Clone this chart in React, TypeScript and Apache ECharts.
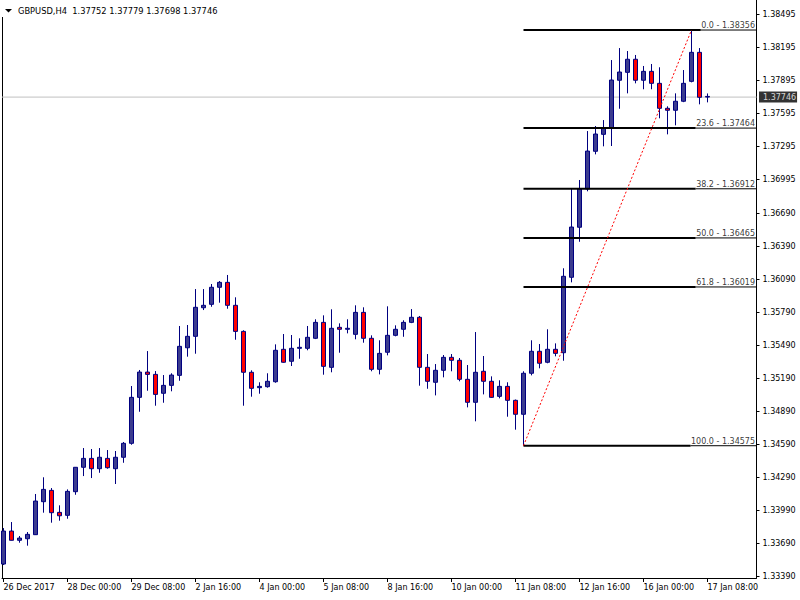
import React, { useEffect, useRef } from "react";
import * as echarts from "echarts";

const symbolName = "GBPUSD";
const timeframe = "H4";

const opens = [
  1.33499, 1.33799, 1.33715, 1.33729, 1.33766, 1.34066, 1.34169, 1.33969, 1.33942, 1.34157,
  1.34379, 1.3446, 1.34366, 1.3446, 1.34366, 1.3447, 1.34597, 1.35015, 1.35245, 1.35224,
  1.35052, 1.35124, 1.35215, 1.35466, 1.3557, 1.3583, 1.35861, 1.36016, 1.36061, 1.35852,
  1.35615, 1.35243, 1.35103, 1.35112, 1.35157, 1.35452, 1.35343, 1.35461, 1.35461, 1.35552,
  1.35697, 1.35288, 1.35652, 1.35634, 1.35588, 1.35788, 1.35552, 1.3527, 1.35425, 1.35579,
  1.35634, 1.35697, 1.35743, 1.35288, 1.35152, 1.35261, 1.35379, 1.35352, 1.35179, 1.3497,
  1.35252, 1.35161, 1.35024, 1.35115, 1.34988, 1.34861, 1.35234, 1.35434, 1.35334, 1.35452,
  1.35421, 1.36107, 1.36562, 1.3691, 1.37253, 1.37407, 1.37462, 1.37899, 1.37971, 1.3809,
  1.37899, 1.3798, 1.37871, 1.37644, 1.37626, 1.37708, 1.37889, 1.38153, 1.37752,
];
const closes = [
  1.33799, 1.33715, 1.33735, 1.33769, 1.34072, 1.34178, 1.33966, 1.33938, 1.3416, 1.34379,
  1.3446, 1.34366, 1.3447, 1.34375, 1.3447, 1.34597, 1.35015, 1.35245, 1.35224, 1.35042,
  1.35124, 1.35218, 1.35479, 1.3557, 1.35834, 1.35852, 1.36016, 1.36061, 1.35852, 1.35615,
  1.35243, 1.35097, 1.35115, 1.35161, 1.35443, 1.35334, 1.35461, 1.3547, 1.35561, 1.35697,
  1.35297, 1.35643, 1.35634, 1.35643, 1.35788, 1.35552, 1.3527, 1.35415, 1.35579, 1.35634,
  1.35697, 1.35743, 1.35288, 1.35161, 1.35261, 1.35379, 1.35352, 1.35179, 1.3497, 1.35243,
  1.35161, 1.35015, 1.35115, 1.34988, 1.34861, 1.35234, 1.35434, 1.35325, 1.35452, 1.35415,
  1.36116, 1.36564, 1.3691, 1.37255, 1.3741, 1.37465, 1.37901, 1.37974, 1.3809, 1.37899,
  1.3798, 1.37871, 1.37644, 1.37626, 1.37708, 1.37871, 1.38153, 1.37744, 1.37746,
];
const lows = [
  1.3349, 1.33713, 1.33693, 1.33666, 1.33763, 1.33966, 1.33875, 1.33893, 1.33911, 1.34129,
  1.34299, 1.34281, 1.34329, 1.34366, 1.34227, 1.3442, 1.34584, 1.34884, 1.35075, 1.34939,
  1.34966, 1.3507, 1.35166, 1.35385, 1.35412, 1.35809, 1.35839, 1.35876, 1.35821, 1.35539,
  1.34939, 1.35021, 1.35048, 1.35103, 1.35148, 1.3533, 1.353, 1.35366, 1.35443, 1.35545,
  1.35221, 1.35243, 1.35421, 1.35597, 1.35543, 1.35512, 1.35252, 1.35224, 1.35397, 1.3557,
  1.35566, 1.3569, 1.35121, 1.35093, 1.35033, 1.35197, 1.35252, 1.35161, 1.34924, 1.34797,
  1.35042, 1.3501, 1.35006, 1.34839, 1.34721, 1.34575, 1.35215, 1.35279, 1.35325, 1.35388,
  1.35348, 1.36061, 1.3643, 1.36889, 1.37225, 1.37298, 1.37301, 1.3764, 1.3778, 1.37871,
  1.37817, 1.37817, 1.37553, 1.37407, 1.37489, 1.377, 1.3788, 1.3768, 1.37698,
];
const highs = [
  1.33826, 1.33881, 1.33754, 1.3379, 1.34136, 1.34288, 1.3419, 1.34033, 1.34178, 1.34381,
  1.34554, 1.34545, 1.34554, 1.34536, 1.34527, 1.34609, 1.35118, 1.35264, 1.35436, 1.35254,
  1.35218, 1.35234, 1.35664, 1.35673, 1.36, 1.36, 1.36046, 1.36073, 1.36128, 1.35925,
  1.35625, 1.35261, 1.35152, 1.35234, 1.35497, 1.35591, 1.35582, 1.35552, 1.35664, 1.35725,
  1.35761, 1.35816, 1.35688, 1.35725, 1.35852, 1.35834, 1.35579, 1.35534, 1.35843, 1.3567,
  1.35716, 1.35818, 1.35755, 1.35409, 1.35318, 1.354, 1.35409, 1.35373, 1.35309, 1.35609,
  1.35391, 1.35206, 1.3517, 1.35152, 1.34995, 1.35252, 1.35534, 1.355, 1.35634, 1.35506,
  1.36189, 1.36913, 1.36992, 1.37437, 1.37483, 1.37537, 1.38083, 1.38192, 1.38165, 1.38129,
  1.38029, 1.38047, 1.38017, 1.37662, 1.3778, 1.37992, 1.38356, 1.38192, 1.37779,
];

const xTickLabels = [
  "26 Dec 2017", "28 Dec 00:00", "29 Dec 08:00", "2 Jan 16:00", "4 Jan 00:00", "5 Jan 08:00",
  "8 Jan 16:00", "10 Jan 00:00", "11 Jan 08:00", "12 Jan 16:00", "16 Jan 00:00", "17 Jan 08:00",
];
const barsPerLabel = 8;
const yTickValues = [
  1.3339, 1.3369, 1.3399, 1.3429, 1.3459, 1.3489, 1.3519, 1.3549, 1.3579, 1.3609,
  1.3639, 1.3669, 1.36995, 1.37295, 1.37595, 1.37895, 1.38195, 1.38495,
];

const fibLevels = [0.0, 23.6, 38.2, 50.0, 61.8, 100.0];
const fibPrices = [1.38356, 1.37464, 1.36912, 1.36465, 1.36019, 1.34575];
const fibAnchorBar = 65;
const trendFromBar = 65;
const trendToBar = 86;
const currentPrice = 1.37746;

const W = 800;
const H = 600;
const GRID = { left: 2, right: 43.5, top: 0, bottom: 22 };
const BAR_PX = 8;
const X_MIN = -0.1875;
const X_MAX = X_MIN + (W - GRID.left - GRID.right) / BAR_PX;
const Y_MIN = 1.33372;
const Y_MAX = 1.38629;
const FONT = "DejaVu Sans";
const FS = 8;

function measure(text: string, size: number): number {
  const ctx = document.createElement("canvas").getContext("2d");
  if (!ctx) return text.length * size * 0.55;
  ctx.font = `${size}px "${FONT}"`;
  return ctx.measureText(text).width;
}

function buildOption() {
  const candleData = opens.map((o, i) => [i, o, closes[i], lows[i], highs[i]]);
  const fibTexts = fibPrices.map((p, i) => `${fibLevels[i].toFixed(1)} - ${p.toFixed(5)}`);
  const lineCommon = { symbol: "none", silent: true, animation: false, z: 3 };

  const fibSeries: any[] = [];
  fibPrices.forEach((p, i) => {
    const w = measure(fibTexts[i], FS);
    const split = X_MAX - (w + 2) / BAR_PX;
    fibSeries.push({
      type: "line",
      ...lineCommon,
      data: [[fibAnchorBar, p], [split, p]],
      lineStyle: { color: "#000000", width: 2 },
    });
    fibSeries.push({
      type: "line",
      ...lineCommon,
      data: [[split, p], [X_MAX, p]],
      lineStyle: { color: "#000000", width: 1 },
    });
  });

  const last = opens.length - 1;
  const fmt = (v: number) => v.toFixed(5);
  const title = `${symbolName},${timeframe}\u00a0 ${fmt(opens[last])} ${fmt(highs[last])} ${fmt(lows[last])} ${fmt(closes[last])}`;

  const tickBars = xTickLabels.map((_, i) => i * barsPerLabel);

  return {
    animation: false,
    backgroundColor: "#ffffff",
    grid: {
      left: GRID.left,
      right: GRID.right,
      top: GRID.top,
      bottom: GRID.bottom,
      containLabel: false,
      outerBoundsMode: "none",
    },
    xAxis: {
      type: "value",
      min: X_MIN,
      max: X_MAX,
      position: "bottom",
      axisLine: { show: true, onZero: false, lineStyle: { color: "#000000", width: 1 } },
      axisTick: { show: true, customValues: tickBars, length: 4, lineStyle: { color: "#000000" } },
      axisLabel: {
        show: true,
        customValues: tickBars,
        formatter: (v: number) => xTickLabels[Math.round(v / barsPerLabel)] ?? "",
        align: "left",
        margin: 5,
        color: "#000000",
        fontFamily: FONT,
        fontSize: FS,
      },
      splitLine: { show: false },
    },
    yAxis: {
      type: "value",
      position: "right",
      min: Y_MIN,
      max: Y_MAX,
      axisLine: { show: true, onZero: false, lineStyle: { color: "#000000", width: 1 } },
      axisTick: { show: true, customValues: yTickValues, length: 3, lineStyle: { color: "#000000" } },
      axisLabel: {
        show: true,
        customValues: yTickValues,
        formatter: (v: number) => v.toFixed(5),
        margin: 6,
        color: "#000000",
        fontFamily: FONT,
        fontSize: FS,
      },
      splitLine: { show: false },
    },
    graphic: [
      {
        type: "line",
        shape: { x1: 2.5, y1: 17, x2: 2.5, y2: 578 },
        style: { stroke: "#000000", lineWidth: 1 },
        silent: true,
      },
      {
        type: "polygon",
        shape: { points: [[5, 9], [12, 9], [8.5, 12.5]] },
        style: { fill: "#000000" },
        silent: true,
      },
      {
        type: "text",
        x: 18,
        y: 11,
        style: {
          text: title,
          fill: "#000000",
          fontFamily: FONT,
          fontSize: 8.3,
          verticalAlign: "middle",
          align: "left",
        },
        silent: true,
      },
    ],
    series: [
      {
        type: "line",
        ...lineCommon,
        z: 1,
        data: [[X_MIN, currentPrice], [X_MAX, currentPrice]],
        lineStyle: { color: "#c0c0c0", width: 1 },
      },
      {
        type: "candlestick",
        z: 2,
        silent: true,
        barWidth: 4,
        data: candleData,
        encode: { x: 0, y: [1, 2, 3, 4] },
        itemStyle: {
          color: "#3c3c8e",
          color0: "#ff0000",
          borderColor: "#000080",
          borderColor0: "#000080",
          borderColorDoji: "#000080",
          borderWidth: 1,
        },
        emphasis: { disabled: true },
      },
      ...fibSeries,
      {
        type: "line",
        ...lineCommon,
        z: 4,
        data: [
          [trendFromBar, lows[trendFromBar]],
          [trendToBar, highs[trendToBar]],
        ],
        lineStyle: { color: "#ff0000", width: 1, type: [2, 2] },
      },
      {
        type: "scatter",
        z: 5,
        silent: true,
        symbolSize: 1,
        itemStyle: { color: "rgba(0,0,0,0)" },
        data: fibPrices.map((p) => [X_MAX, p]),
        label: {
          show: true,
          position: [0, 0],
          align: "right",
          verticalAlign: "bottom",
          offset: [-1, 0],
          formatter: (prm: any) => fibTexts[prm.dataIndex],
          color: "#000000",
          fontFamily: FONT,
          fontSize: FS,
        },
      },
      {
        type: "scatter",
        z: 6,
        silent: true,
        symbolSize: 1,
        itemStyle: { color: "rgba(0,0,0,0)" },
        data: [[X_MAX, currentPrice]],
        label: {
          show: true,
          position: "right",
          distance: 2,
          formatter: () => currentPrice.toFixed(5),
          color: "#ffffff",
          backgroundColor: "#000000",
          padding: [2, 1, 1, 4],
          fontFamily: FONT,
          fontSize: FS,
        },
      },
    ],
  };
}

export default function App() {
  const ref = useRef<HTMLDivElement>(null);
  useEffect(() => {
    if (!ref.current) return;
    const chart = echarts.init(ref.current, null, { renderer: "svg", width: W, height: H });
    chart.setOption(buildOption() as any);
    return () => chart.dispose();
  }, []);
  return (
    <div
      ref={ref}
      style={{ position: "fixed", left: 0, top: 0, width: W, height: H, background: "#ffffff" }}
    />
  );
}
